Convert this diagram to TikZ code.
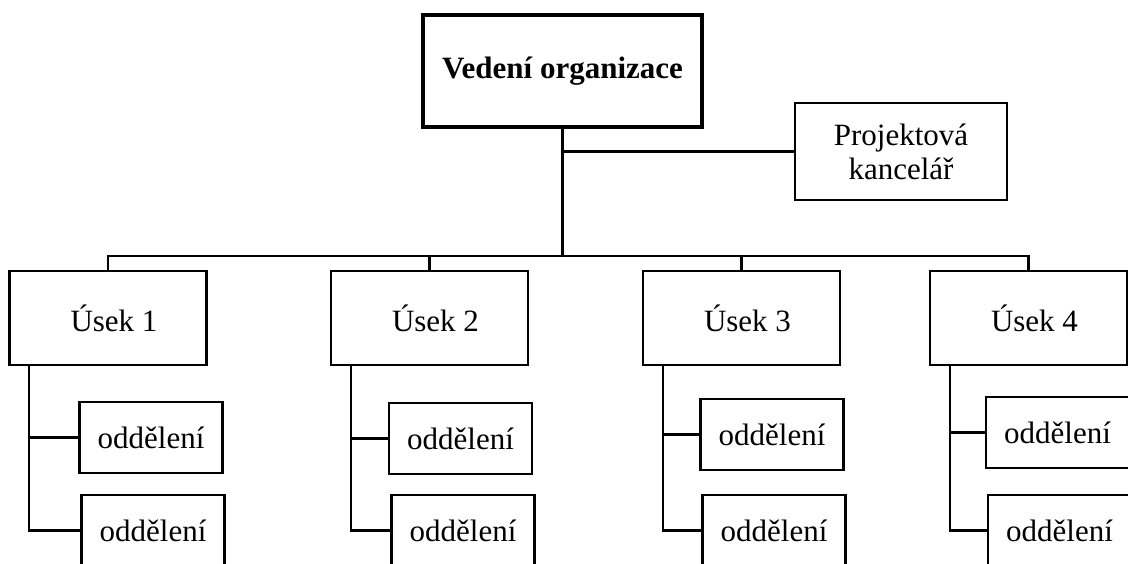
\documentclass[tikz,border=0pt]{standalone}
\usepackage{fontspec}
\setmainfont{Liberation Serif}
\begin{document}
\begin{tikzpicture}[x=1pt,y=-1pt,
  box/.style={draw=black,rectangle,inner sep=0pt,align=center,
    font=\fontsize{31}{34}\selectfont},
  headbox/.style={box,line width=3.5pt,font=\fontsize{31}{34}\selectfont\bfseries,
    minimum width=279pt,minimum height=112pt},
  projbox/.style={box,line width=2.4pt,minimum width=212pt,minimum height=97pt},
  unitbox/.style={box,line width=2.4pt,minimum width=197pt,minimum height=94pt},
  deptbox/.style={box,line width=2.4pt,minimum width=143pt,minimum height=71pt},
  link/.style={draw=black,line width=2.2pt,line cap=rect},
  trunk/.style={draw=black,line width=3pt}]
\useasboundingbox[fill=white] (0,0) rectangle (1128,563);

% top management and project office
\node[headbox] (head) at (562.5,71) {Vedení organizace};
\node[projbox] (proj) at (901,151.5) {Projektová\\kancelář};

% divisions (labels sit slightly right of centre)
\newcommand{\unitlabel}[1]{\hspace*{12pt}#1}
\node[unitbox] (u1) at (108,318) {\unitlabel{Úsek 1}};
\node[unitbox] (u2) at (429.5,318) {\unitlabel{Úsek 2}};
\node[unitbox] (u3) at (741.5,318) {\unitlabel{Úsek 3}};
\node[unitbox] (u4) at (1028.5,318) {\unitlabel{Úsek 4}};

% departments
\node[deptbox] (d11) at (151,437.5) {oddělení};
\node[deptbox] (d12) at (153,530.5) {oddělení};
\node[deptbox] (d21) at (460.5,438.5) {oddělení};
\node[deptbox] (d22) at (463,530.5) {oddělení};
\node[deptbox] (d31) at (772,434.5) {oddělení};
\node[deptbox] (d32) at (774,530.5) {oddělení};
\node[deptbox] (d41) at (1057.5,432.5) {oddělení};
\node[deptbox] (d42) at (1059.5,530.5) {oddělení};

% main trunk and bus
\coordinate (bus) at (562.5,256);
\draw[trunk] (head.south) -- (bus);
\draw[link] (head.south |- proj.west) -- (proj.west);
\foreach \u in {u1,u2,u3,u4}{
  \draw[link] (\u.north) |- (bus);
}

% department branches
\foreach \u/\a/\b in {u1/d11/d12,u2/d21/d22,u3/d31/d32,u4/d41/d42}{
  \draw[link] ([xshift=21pt]\u.south west) |- (\a.west);
  \draw[link] ([xshift=21pt]\u.south west) |- (\b.west);
}
\end{tikzpicture}
\end{document}
